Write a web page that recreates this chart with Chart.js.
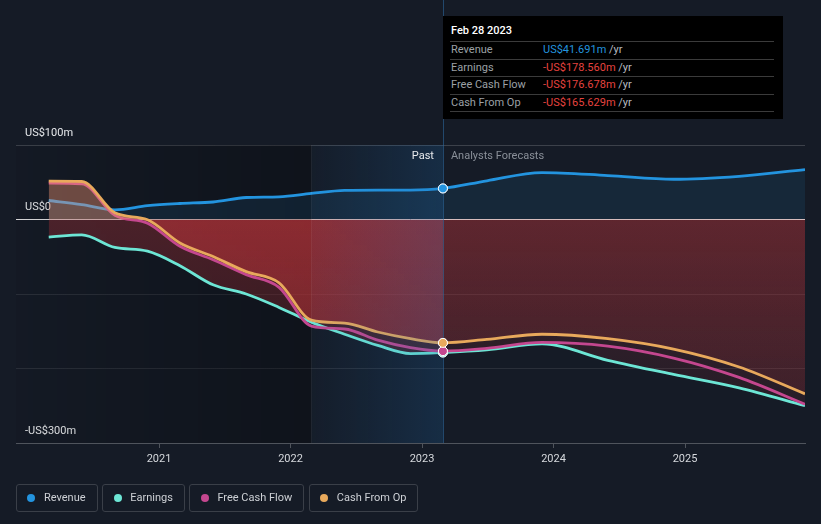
<!DOCTYPE html>
<html>
<head>
<meta charset="utf-8">
<script src="https://cdn.jsdelivr.net/npm/chart.js@4.4.0/dist/chart.umd.min.js"></script>
<style>
html,body{margin:0;padding:0;background:#151b26;}
#wrap{position:relative;width:821px;height:524px;overflow:hidden;font-family:Roboto,'Noto Sans',sans-serif;}
#c{position:absolute;left:0;top:0;}
#tip{position:absolute;left:443px;top:16px;width:340px;height:103px;background:#000;font-size:11px;}
#tip .tt{position:absolute;left:8px;top:8px;color:#fff;font-weight:500;line-height:14px;}
#tip .rows{position:absolute;left:7px;width:324px;top:25px;border-bottom:1px solid #3b3b3b;}
#tip .row{height:16.5px;border-top:1px solid #3b3b3b;line-height:16.5px;padding-left:1px;display:flex;white-space:nowrap;}
#tip .lab{width:92px;color:#9ca0a6;}
#tip .unit{color:#b8bbc0;}
#legend{position:absolute;left:16px;top:484px;display:flex;gap:4.6px;}
#legend .item{display:flex;align-items:center;height:25.5px;border:1px solid #3a3f48;border-radius:3px;padding:0 11px 0 10.4px;color:#cdd0d5;font-size:11px;}
#legend .dot{width:8px;height:8px;border-radius:50%;margin-right:8.6px;}
</style>
</head>
<body>
<div id="wrap">
<canvas id="c" width="821" height="524"></canvas>
<div id="tip"></div>
<div id="legend"></div>
</div>
<script>
// ---- data ----
const dates = ['2020-02-29','2020-05-31','2020-08-31','2020-11-30','2021-02-28','2021-05-31','2021-08-31','2021-11-30','2022-02-28','2022-05-31','2022-08-31','2022-11-30','2023-02-28','2023-06-30','2023-11-30','2024-05-31','2024-11-30','2025-05-31','2025-11-30'];
const revenue = [25.5,20,13,18.5,21.5,23.5,29.5,30.5,35,39,39.5,39.5,41.691,52,63,59,54,58,67];
const earnings = [-23.7,-20.6,-37.5,-42.5,-62,-87.7,-100,-118,-138,-154,-169,-180,-178.56,-175,-167,-189,-208,-226,-250];
const freeCashFlow = [48.7,48,5.5,-5,-36,-54,-74,-91,-143,-147,-162,-172,-176.678,-173,-165,-170,-186,-212,-248];
const cashFromOp = [51.4,51,9,-0.4,-31.5,-49.7,-70,-85,-135,-139,-151,-160,-165.629,-161,-154,-160,-174,-198,-234];
const seriesNames = ['Revenue','Earnings','Free Cash Flow','Cash From Op'];
const seriesColors = ['#2394df','#6de6d5','#c4478f','#e8a95c'];
const nowIndex = 12;          // Feb 28 2023
const pastStartIndex = 8;     // one year earlier
const xStart = '2019-11-30';
const xTickYears = [2021,2022,2023,2024,2025];
const yTicks = [100,0,-100,-200,-300];
const yLabelled = [100,0,-300];
const yMin = -300, yMax = 100;
const pastLabel = 'Past', forecastLabel = 'Analysts Forecasts';
const monthNames = ['Jan','Feb','Mar','Apr','May','Jun','Jul','Aug','Sep','Oct','Nov','Dec'];

function toYear(s){
  const [y,m,d]=s.split('-').map(Number);
  const a=Date.UTC(y,0,1), b=Date.UTC(y+1,0,1);
  return y + (Date.UTC(y,m-1,d)-a)/(b-a);
}
const xs = dates.map(toYear);
const allSeries = [revenue,earnings,freeCashFlow,cashFromOp];
const pts = arr => arr.map((v,i)=>({x:xs[i],y:v}));

// fill patterns (past vs forecast, vertical fade)
const patCache = {};
function fillPattern(chart, key, spec){
  const ca = chart.chartArea;
  if(!ca) return 'transparent';
  const k = key+ca.left+','+ca.top+','+ca.right+','+ca.bottom;
  if(patCache[k]) return patCache[k];
  const y0 = chart.scales.y.getPixelForValue(0);
  const nx = chart.scales.x.getPixelForValue(xs[nowIndex]);
  const cv = document.createElement('canvas');
  cv.width = chart.width; cv.height = chart.height;
  const g = cv.getContext('2d');
  g.fillStyle = spec.pos; g.fillRect(0,0,cv.width,y0);
  let gr = g.createLinearGradient(0,y0,0,ca.bottom);
  gr.addColorStop(0,spec.pastTop); gr.addColorStop(1,spec.pastBot);
  g.fillStyle = gr; g.fillRect(0,y0,nx,cv.height-y0);
  gr = g.createLinearGradient(0,y0,0,ca.bottom);
  gr.addColorStop(0,spec.futTop); gr.addColorStop(1,spec.futBot);
  g.fillStyle = gr; g.fillRect(nx,y0,cv.width-nx,cv.height-y0);
  const p = chart.ctx.createPattern(cv,'no-repeat');
  patCache[k]=p; return p;
}
const cfoSpec = {pos:'rgba(245,150,115,0.4)',pastTop:'rgba(205,55,60,0.5)',pastBot:'rgba(205,55,60,0.35)',futTop:'rgba(205,55,60,0.25)',futBot:'rgba(205,55,60,0.1)'};
const earnSpec = {pos:'rgba(245,150,115,0.3)',pastTop:'rgba(205,55,60,0.3)',pastBot:'rgba(205,55,60,0.15)',futTop:'rgba(205,55,60,0.2)',futBot:'rgba(205,55,60,0.08)'};

const bandsPlugin = {
  id:'bands',
  beforeDatasetsDraw(chart){
    const {ctx, chartArea:{left,top,bottom}} = chart;
    const x1 = chart.scales.x.getPixelForValue(xs[pastStartIndex]);
    const gr = ctx.createLinearGradient(left,0,x1,0);
    gr.addColorStop(0,'rgba(0,0,0,0.04)'); gr.addColorStop(1,'rgba(0,0,0,0.28)');
    ctx.save(); ctx.fillStyle=gr; ctx.fillRect(left,top,x1-left,bottom-top); ctx.restore();
  },
  afterDatasetsDraw(chart){
    const {ctx, chartArea:{left,top,bottom}} = chart;
    const x1 = chart.scales.x.getPixelForValue(xs[pastStartIndex]);
    const nx = chart.scales.x.getPixelForValue(xs[nowIndex]);
    ctx.save();
    const gr = ctx.createLinearGradient(x1,0,nx,0);
    gr.addColorStop(0,'rgba(30,110,180,0.03)'); gr.addColorStop(1,'rgba(30,110,180,0.22)');
    ctx.fillStyle=gr; ctx.fillRect(x1,top,nx-x1,bottom-top);
    ctx.strokeStyle='rgba(255,255,255,0.06)'; ctx.lineWidth=1;
    ctx.beginPath(); ctx.moveTo(Math.round(x1)+0.5,top); ctx.lineTo(Math.round(x1)+0.5,bottom); ctx.stroke();
    ctx.strokeStyle='rgba(45,110,165,0.55)';
    ctx.beginPath(); ctx.moveTo(Math.round(nx)+0.5,0); ctx.lineTo(Math.round(nx)+0.5,bottom); ctx.stroke();
    ctx.font='11px Roboto'; ctx.textBaseline='middle';
    ctx.textAlign='right'; ctx.fillStyle='#e8eaed'; ctx.fillText(pastLabel,nx-9,top+11);
    ctx.textAlign='left'; ctx.fillStyle='#8a9099'; ctx.fillText(forecastLabel,nx+8,top+11);
    ctx.restore();
    [0,1,2,3].forEach(i=>{
      const el = chart.getDatasetMeta(i).data[nowIndex];
      if(el) el.draw(ctx, chart.chartArea);
    });
  }
};

const mkDs = (i, extra) => Object.assign({
  label: seriesNames[i],
  data: pts(allSeries[i]),
  borderColor: seriesColors[i],
  backgroundColor: seriesColors[i],
  borderWidth: 2.8,
  cubicInterpolationMode: 'monotone',
  pointRadius: c => c.dataIndex===nowIndex ? 4.5 : 0,
  pointHoverRadius: 0,
  pointBackgroundColor: seriesColors[i],
  pointBorderColor: '#ffffff',
  pointBorderWidth: 1,
  fill: false
}, extra);

const chart = new Chart(document.getElementById('c'), {
  type:'line',
  data:{ datasets:[
    mkDs(0,{order:4, fill:'origin', backgroundColor:'rgba(35,148,223,0.11)'}),
    mkDs(1,{order:3, fill:'origin', backgroundColor:c=>fillPattern(c.chart,'e',earnSpec)}),
    mkDs(2,{order:2}),
    mkDs(3,{order:1, fill:'origin', backgroundColor:c=>fillPattern(c.chart,'c',cfoSpec)})
  ]},
  options:{
    responsive:false, animation:false, events:[],
    layout:{padding:{left:16,right:16,top:145,bottom:60}},
    plugins:{legend:{display:false},tooltip:{enabled:false}},
    scales:{
      x:{
        type:'linear', min:toYear(xStart), max:xs[xs.length-1],
        afterBuildTicks:s=>{s.ticks=xTickYears.map(v=>({value:v}));},
        afterFit:s=>{s.height=21;},
        ticks:{color:'#d6d9dd',font:{family:'Roboto',size:11},padding:5,maxRotation:0,autoSkip:false,callback:v=>String(v)},
        grid:{drawOnChartArea:false,drawTicks:true,tickLength:5,color:'rgba(255,255,255,0.25)'},
        border:{display:true,color:'rgba(255,255,255,0.25)'}
      },
      y:{
        min:yMin, max:yMax,
        afterBuildTicks:s=>{s.ticks=yTicks.map(v=>({value:v}));},
        afterFit:s=>{s.width=0;},
        ticks:{mirror:true,padding:9,labelOffset:-12,color:'#e6e8eb',font:{family:'Roboto',size:11},
          callback:v=> yLabelled.includes(v) ? (v===0?'US$0':(v<0?'-':'')+'US$'+Math.abs(v)+'m') : ''},
        grid:{drawTicks:false,lineWidth:1,color:c=>{
          const v=c.tick&&c.tick.value;
          if(v===0) return 'rgba(255,255,255,0.85)';
          if(v===yMax) return 'rgba(255,255,255,0.17)';
          if(v===yMin) return 'rgba(0,0,0,0)';
          return 'rgba(255,255,255,0.09)';
        }},
        border:{display:false}
      }
    }
  },
  plugins:[bandsPlugin]
});

// tooltip box
(function(){
  const [y,m,d]=dates[nowIndex].split('-').map(Number);
  const tip=document.getElementById('tip');
  const fmt=v=>(v<0?'-':'')+'US$'+Math.abs(v).toFixed(3)+'m';
  let html='<div class="tt">'+monthNames[m-1]+' '+d+' '+y+'</div><div class="rows">';
  allSeries.forEach((arr,i)=>{
    const v=arr[nowIndex];
    html+='<div class="row"><span class="lab">'+seriesNames[i]+'</span><span style="color:'+(v<0?'#e5433f':'#2394df')+'">'+fmt(v)+'</span><span class="unit">&nbsp;/yr</span></div>';
  });
  tip.innerHTML=html+'</div>';
  const lg=document.getElementById('legend');
  lg.innerHTML=seriesNames.map((n,i)=>'<div class="item"><span class="dot" style="background:'+seriesColors[i]+'"></span>'+n+'</div>').join('');
})();
</script>
</body>
</html>
